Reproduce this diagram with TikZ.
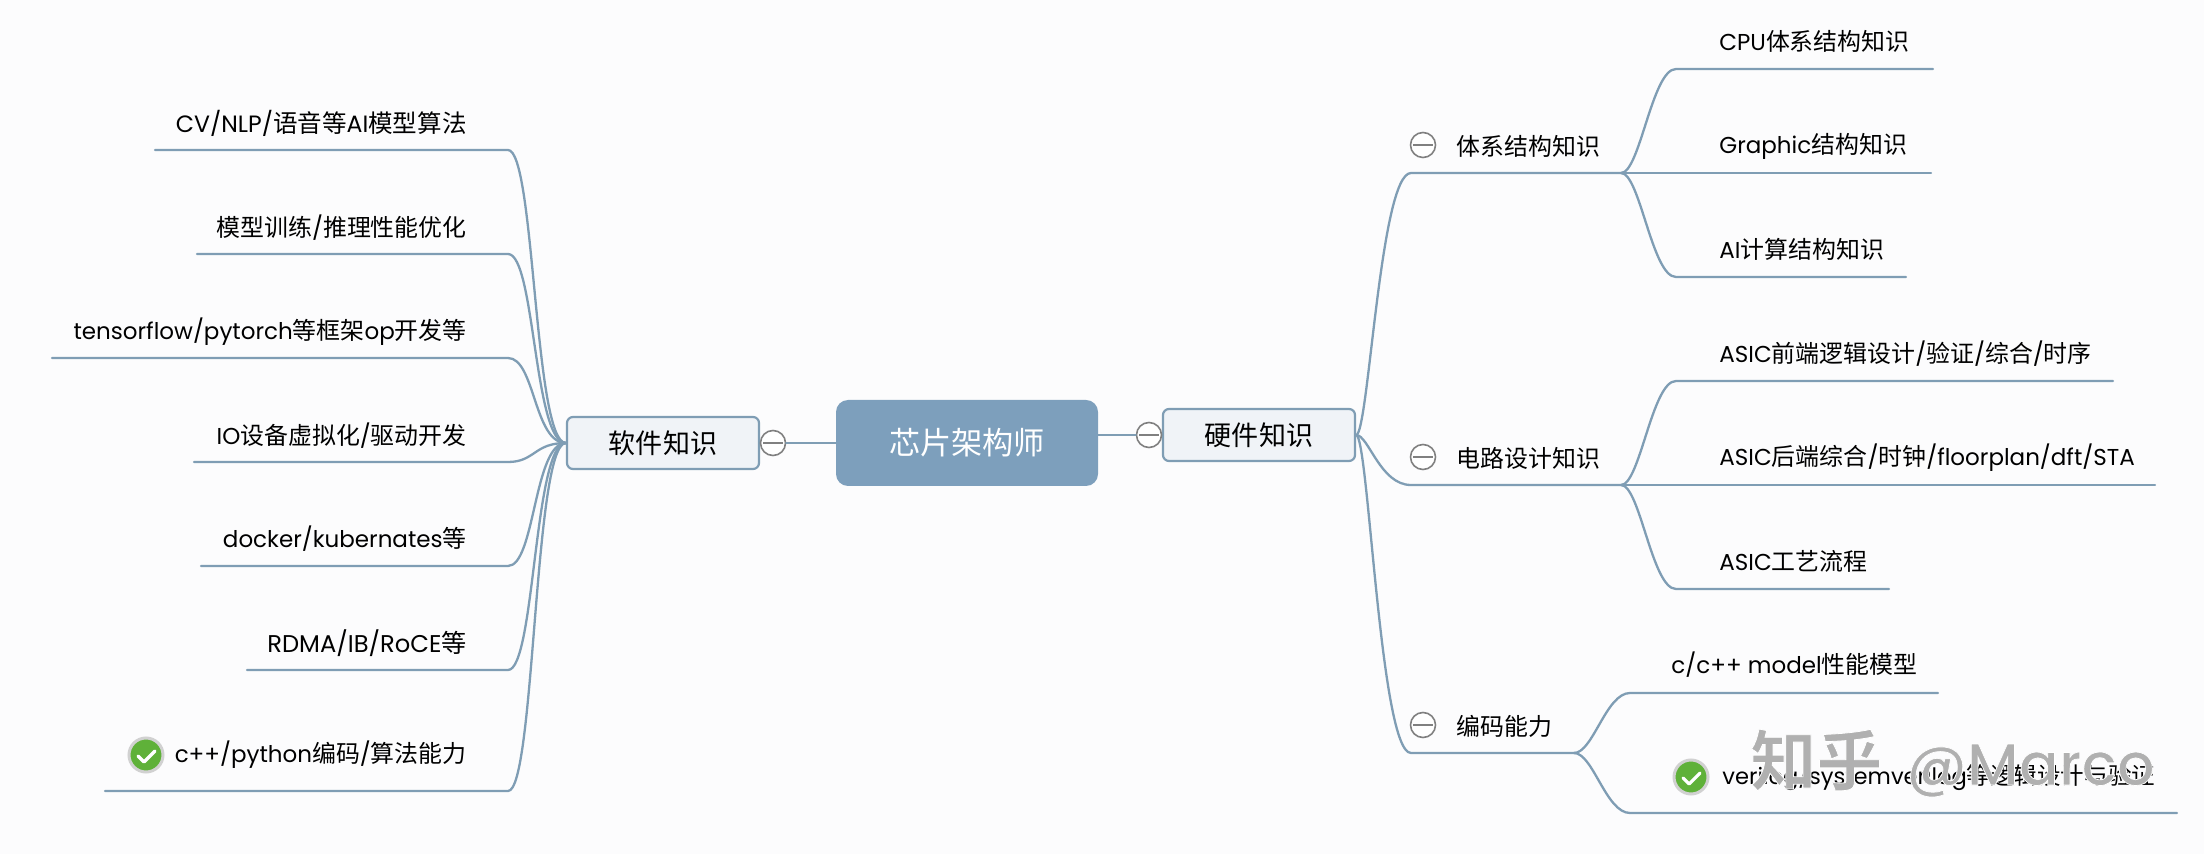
\documentclass[tikz,border=0pt]{standalone}
\usepackage{xcolor}
\usepackage{fontspec}
\setmainfont{Poppins}
\newfontfamily\cjk[Scale=1.04]{Noto Sans CJK SC}
\newfontfamily\cjkmark[FakeBold=1.2]{Noto Sans CJK SC Bold}
\newfontfamily\latinmark[FakeBold=1.2]{Poppins Medium}
\newcommand{\zh}[1]{{\cjk #1}}
\definecolor{pagecol}{HTML}{FCFCFD}
\definecolor{branchcol}{HTML}{7F9DB4}
\definecolor{rootcol}{HTML}{7D9FBC}
\definecolor{boxcol}{HTML}{F0F3F7}
\definecolor{okcol}{HTML}{5FB139}

\begin{document}
\begin{tikzpicture}[x=0.5pt,y=-0.5pt]
	\tikzset{
		branch/.style={draw=branchcol,line width=1.15pt,line cap=round},
		rootbox/.style={draw=none,fill=rootcol,rounded corners=6pt,text=white,font=\fontsize{15}{18}\selectfont,minimum width=131pt,minimum height=43pt,inner sep=0pt},
		mainbox/.style={draw=branchcol,line width=1.1pt,fill=boxcol,rounded corners=3pt,font=\fontsize{13}{16}\selectfont,minimum width=96pt,minimum height=26pt,inner sep=0pt},
		subject/.style={font=\fontsize{11.5}{14}\selectfont,anchor=west,inner sep=0pt},
		leafL/.style={font=\fontsize{11.5}{14}\selectfont,anchor=east,inner sep=0pt},
		leafR/.style={font=\fontsize{11.5}{14}\selectfont,anchor=west,inner sep=0pt},
		fold/.style={circle,draw=gray,line width=0.8pt,fill=white,minimum size=12.5pt,inner sep=0pt,
			path picture={\draw[gray,line width=0.8pt] ([xshift=1.4pt]path picture bounding box.west) -- ([xshift=-1.4pt]path picture bounding box.east);}},
		okmark/.style={circle,draw=black!18,line width=1.5pt,fill=okcol,minimum size=17pt,inner sep=0pt},
		tick/.style={draw=white,line width=1.6pt,line cap=round,line join=round}
	}
	\useasboundingbox (0,0) rectangle (2204,854);
	\fill[pagecol] (0,0) rectangle (2204,854);

	% the three boxes in the middle
	\node[rootbox] (root) at (967,443) {\zh{芯片架构师}};
	\node[mainbox] (soft) at (663,443) {\zh{软件知识}};
	\node[mainbox] (hard) at (1259,435) {\zh{硬件知识}};
	\node[fold] (softfold) at (773,443) {};
	\node[fold] (hardfold) at (1149,435) {};
	\draw[branch] (root.west |- softfold) -- (softfold);
	\draw[branch] (root.east |- hardfold) -- (hardfold);

	% left side
	\node[leafL,font=\fontsize{11.8}{14}\selectfont] (cv) at (467,123) {CV/NLP/\zh{语音等}AI\zh{模型算法}};
	\node[leafL] (train) at (467,228) {\zh{模型训练}/\zh{推理性能优化}};
	\node[leafL] (tf) at (467,332) {tensorflow/pytorch\zh{等框架}op\zh{开发等}};
	\node[leafL] (io) at (467,436) {IO\zh{设备虚拟化}/\zh{驱动开发}};
	\node[leafL] (docker) at (467,539) {docker/kubernates\zh{等}};
	\node[leafL,font=\fontsize{12.1}{14}\selectfont] (rdma) at (467,643) {RDMA/IB/RoCE\zh{等}};
	\node[leafL] (cpp) at (467,755) {c++/python\zh{编码}/\zh{算法能力}};
	\node[okmark] (cppok) at (146,755) {};
	\draw[tick] (cppok.center) ++(-8,1) -- ++(6,6) -- ++(11,-11);

	\foreach \leaf/\ly/\lx in {cv/150/155,train/254/197,tf/358/52,io/462/194,docker/566/201,rdma/670/247,cpp/791/105}{
		\coordinate (\leaf end) at (\lx,\ly);
		\coordinate (\leaf turn) at (508,\ly);
		\draw[branch] (\leaf end) -- (\leaf turn) .. controls +(27,0) and ([xshift=-16pt]soft.west) .. (soft.west);
	}

	% right side, first level
	\node[fold] (archfold) at (1423,145) {};
	\node[subject] (arch) at (1456,146) {\zh{体系结构知识}};
	\node[fold] (circfold) at (1423,457) {};
	\node[subject] (circ) at (1456,458) {\zh{电路设计知识}};
	\node[fold] (codefold) at (1423,725) {};
	\node[subject] (code) at (1456,726) {\zh{编码能力}};

	\coordinate (archturn) at (1411,173);
	\coordinate (archjoin) at (1621,173);
	\coordinate (circturn) at (1411,485);
	\coordinate (circjoin) at (1621,485);
	\coordinate (codeturn) at (1411,753);
	\coordinate (codejoin) at (1574,753);
	\foreach \sub in {arch,circ,code}{
		\draw[branch] (hard.east) .. controls +(12.5,0) and ([xshift=-15.5pt]\sub turn) .. (\sub turn) -- (\sub join);
	}

	% right side, second level
	\node[leafR] (cpu) at (1719,41) {CPU\zh{体系结构知识}};
	\node[leafR] (graphic) at (1719,146) {Graphic\zh{结构知识}};
	\node[leafR] (ai) at (1719,249) {AI\zh{计算结构知识}};
	\node[leafR] (front) at (1719,354) {ASIC\zh{前端逻辑设计}/\zh{验证}/\zh{综合}/\zh{时序}};
	\node[leafR] (back) at (1719,458) {ASIC\zh{后端综合}/\zh{时钟}/floorplan/dft/STA};
	\node[leafR] (flow) at (1719,561) {ASIC\zh{工艺流程}};
	\node[leafR] (model) at (1671,665) {c/c++ model\zh{性能模型}};
	\node[leafR,font=\fontsize{11.3}{14}\selectfont] (veri) at (1722,777) {verilog/systemverilog\zh{等逻辑设计与验证}};
	\node[okmark] (veriok) at (1691,777) {};
	\draw[tick] (veriok.center) ++(-8,1) -- ++(6,6) -- ++(11,-11);

	\foreach \leaf/\from/\tx/\ty/\ex in {cpu/arch/1676/69/1933,graphic/arch/1676/173/1931,ai/arch/1676/277/1906,front/circ/1676/381/2113,back/circ/1676/485/2155,flow/circ/1676/589/1889,model/code/1630/693/1938,veri/code/1630/813/2177}{
		\coordinate (\leaf turn) at (\tx,\ty);
		\coordinate (\leaf end) at (\ex,\ty);
		\draw[branch] (\from join) .. controls +(19,0) and ([xshift=-12pt]\leaf turn) .. (\leaf turn) -- (\leaf end);
	}

	\node[inner sep=0pt,anchor=west] (mark) at (1750,763) {\special{pdf:bcolor [0.69] [1]}{\cjkmark\fontsize{33}{36}\selectfont 知乎}\hspace{12pt}{\latinmark\fontsize{29.5}{36}\selectfont @Marco}\special{pdf:ecolor}};
\end{tikzpicture}
\end{document}
